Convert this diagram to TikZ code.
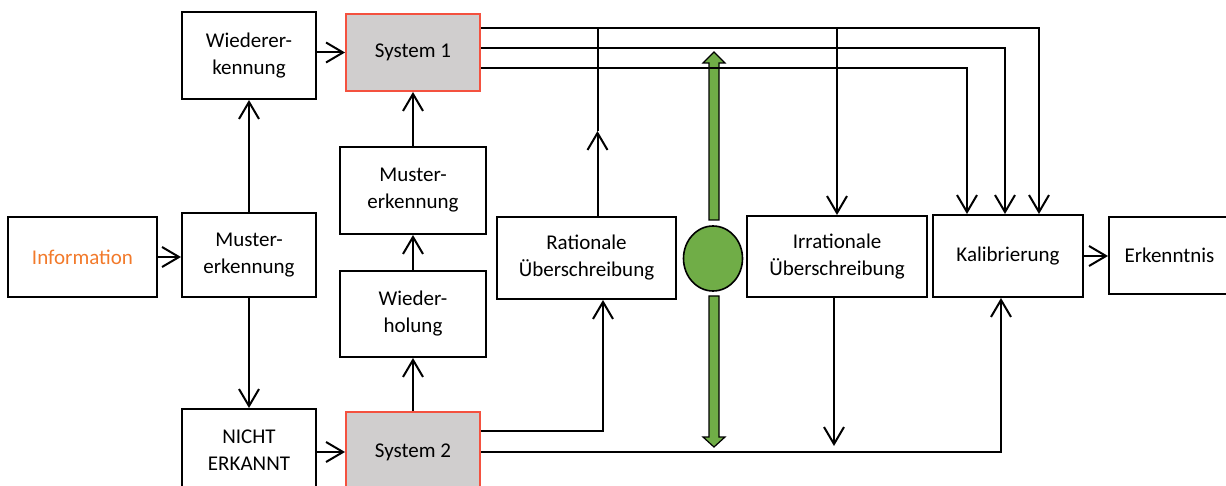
\documentclass[tikz,border=0pt]{standalone}
\usepackage{fontspec}
\setmainfont{Carlito}
\usetikzlibrary{arrows.meta,calc,shapes.geometric}

\definecolor{sysfill}{HTML}{D0CECE}
\definecolor{sysline}{HTML}{F4513F}
\definecolor{infotext}{HTML}{F27A2B}
\definecolor{leafgreen}{HTML}{70AD47}

\tikzset{
  box/.style={draw, line width=1pt, align=center, inner sep=0pt,
    font=\fontsize{10.5}{13.5}\selectfont},
  sz/.style 2 args={minimum width=#1*0.5pt, minimum height=#2*0.5pt},
  sysbox/.style={box, draw=sysline, fill=sysfill},
  conn/.style={line width=1pt},
  arr/.style={conn, -{Straight Barb[length=8.5pt, width=10pt, line width=1pt]}},
  greenpart/.style={fill=leafgreen, draw=black, line width=0.6pt, line join=miter}
}

\begin{document}
\begin{tikzpicture}[x=0.5pt, y=-0.5pt]
\clip (0,0) rectangle (1226,486);

% boxes
\node[box, sz={149}{80}, text=infotext] (info) at (82.5,257) {Information};
\node[box, sz={134}{84}] (must1) at (249,255) {Muster-\\erkennung};
\node[box, sz={134}{87}] (wieder) at (249,55.5) {Wiederer-\\kennung};
\node[box, sz={134}{82}] (nicht) at (249,450) {NICHT\\ERKANNT};
\node[sysbox, sz={134}{77}] (sys1) at (413,52.5) {System 1};
\node[sysbox, sz={134}{80}] (sys2) at (413,452) {System 2};
\node[box, sz={146}{87}] (must2) at (413,190.5) {Muster-\\erkennung};
\node[box, sz={146}{86}] (wdh) at (413,314) {Wieder-\\holung};
\node[box, sz={179}{82}] (rat) at (586.5,258) {Rationale\\Überschreibung};
\node[box, sz={180}{81}] (irr) at (837,256.5) {Irrationale\\Überschreibung};
\node[box, sz={150}{82}] (kal) at (1008,256) {Kalibrierung};
\node[box, sz={121}{77}] (erk) at (1169.5,255.5) {Erkenntnis};

% green balance: circle with arrows up and down
\node[ellipse, greenpart, line width=0.8pt, inner sep=0pt, sz={59}{65}] (ball) at (713,258.5) {};
\draw[greenpart] (709,220) -- (709,63) -- (703,63) -- (714,52) -- (725,63) -- (719,63) -- (719,220) -- cycle;
\draw[greenpart] (709,296) -- (709,437) -- (703,437) -- (714,447) -- (725,437) -- (719,437) -- (719,296) -- cycle;

% left part
\draw[arr] (info.east) -- (info.east -| must1.west);
\draw[arr] (must1.north) -- (wieder.south);
\draw[arr] (must1.south) -- (nicht.north);
\draw[arr] (sys1.west -| wieder.east) -- (sys1.west);
\draw[arr] (sys2.west -| nicht.east) -- (sys2.west);
\draw[arr] (sys2.north) -- (wdh.south);
\draw[arr] (wdh.north) -- (must2.south);
\draw[arr] (must2.north) -- (sys1.south);

% outputs of System 1
\coordinate (s1a) at ($(sys1.north east)+(0,15)$);
\coordinate (s1b) at ($(sys1.north east)+(0,35)$);
\coordinate (s1c) at ($(sys1.north east)+(0,55)$);
\draw[arr] (s1a) -| ($(kal.north)+(31,0)$);
\draw[arr] (s1b) -| ($(kal.north)+(-3,0)$);
\draw[arr] (s1c) -| ($(kal.north)+(-41,0)$);
\draw[arr] (irr.north |- s1a) -- (irr.north);

% rational path back up to the System 1 line
\coordinate (ratout) at ($(rat.north)+(11,0)$);
\coordinate (ratmid) at ($(ratout)+(0,-85)$);
\draw[arr] (ratout) -- (ratmid);
\draw[conn] (ratmid) -- (ratout |- s1a);

% outputs of System 2
\coordinate (s2a) at ($(sys2.north east)+(0,20)$);
\coordinate (s2b) at ($(sys2.north east)+(0,41)$);
\draw[arr] (s2a) -| ($(rat.south)+(16.5,0)$);
\draw[arr] (s2b) -| ($(kal.south)+(-7,0)$);

% irrational path down
\coordinate (irrend) at ($(irr.south)+(-3,148)$);
\draw[arr] ($(irr.south)+(-3,0)$) -- (irrend);

\draw[arr] (kal.east) -- (kal.east -| erk.west);
\end{tikzpicture}
\end{document}
